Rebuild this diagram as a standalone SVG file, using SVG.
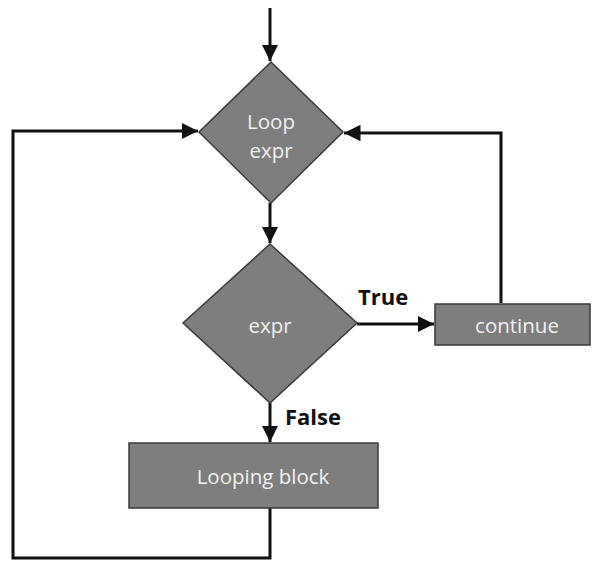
<svg xmlns="http://www.w3.org/2000/svg" width="592" height="562" viewBox="0 0 592 562">
<style>
.shape{fill:#7e7e7e;stroke:#3a3a3a;stroke-width:1.5}
.lbl{fill:#f0f0f0;font-family:"Open Sans","Liberation Sans",sans-serif;font-size:20.5px;text-anchor:middle}
.edge{fill:none;stroke:#111;stroke-width:3}
.elbl{fill:#111;font-family:"Open Sans","Liberation Sans",sans-serif;font-size:22px;font-weight:bold}
</style>
<defs>
<marker id="ah" viewBox="0 0 10 10" refX="10" refY="5" markerWidth="5.5" markerHeight="5.5" orient="auto" markerUnits="strokeWidth">
<path d="M0,0 L10,5 L0,10 z" fill="#111"/>
</marker>
</defs>
<rect width="592" height="562" fill="#fff"/>
<g id="connectors">
<path class="edge" d="M270,8 V61" marker-end="url(#ah)"/>
<path class="edge" d="M270,203 V243" marker-end="url(#ah)"/>
<path class="edge" d="M357,324 H434" marker-end="url(#ah)"/>
<path class="edge" d="M501,303 V133 H344" marker-end="url(#ah)"/>
<path class="edge" d="M270,403 V442" marker-end="url(#ah)"/>
<path class="edge" d="M270,508 V558 H13 V131 H198" marker-end="url(#ah)"/>
<text class="elbl" x="358" y="305">True</text>
<text class="elbl" x="285" y="425">False</text>
</g>
<g id="loop-expr">
<polygon class="shape" points="271,62 343,132 271,203 199,132"/>
<text class="lbl" x="271" y="129">Loop</text>
<text class="lbl" x="271" y="158">expr</text>
</g>
<g id="expr">
<polygon class="shape" points="270,244 357,323 270,403 183,323"/>
<text class="lbl" x="270" y="333">expr</text>
</g>
<g id="continue">
<rect class="shape" x="435" y="304" width="155" height="41"/>
<text class="lbl" x="517" y="333">continue</text>
</g>
<g id="looping-block">
<rect class="shape" x="129" y="443" width="249" height="65"/>
<text class="lbl" x="263" y="484">Looping block</text>
</g>
</svg>
